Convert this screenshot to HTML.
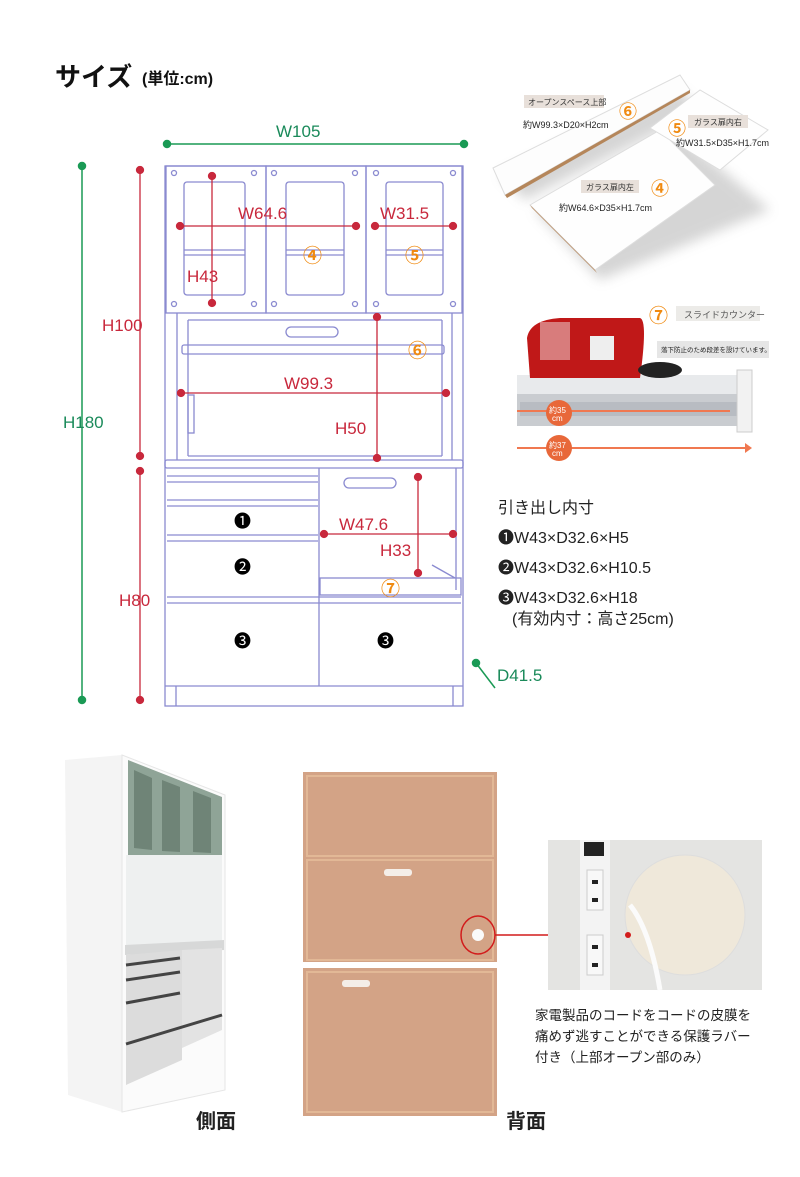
<!DOCTYPE html>
<html><head><meta charset="utf-8"><style>
body{margin:0;background:#fff;}
#w{position:relative;width:800px;height:1177px;overflow:hidden;font-family:"Liberation Sans","Noto Sans CJK JP",sans-serif;}
svg text{font-family:"Liberation Sans","Noto Sans CJK JP",sans-serif;}
</style></head><body><div id="w">
<svg width="800" height="1177" viewBox="0 0 800 1177" xmlns="http://www.w3.org/2000/svg">
<!-- title -->
<text x="55" y="86" font-size="26" font-weight="bold" fill="#111">サイズ</text>
<text x="142" y="84" font-size="16" font-weight="bold" fill="#111">(単位:cm)</text>

<!-- cabinet drawing -->
<g fill="none" stroke="#8a8ad0" stroke-width="1.3">
<rect x="165" y="166" width="298" height="540"/>
<rect x="166" y="166" width="100" height="147"/><rect x="266" y="166" width="100" height="147"/><rect x="366" y="166" width="96" height="147"/>
<rect x="184" y="182" width="61" height="113" rx="3"/><rect x="286" y="182" width="58" height="113" rx="3"/><rect x="386" y="182" width="57" height="113" rx="3"/>
<line x1="184" y1="250" x2="245" y2="250"/><line x1="184" y1="255" x2="245" y2="255"/>
<line x1="286" y1="250" x2="344" y2="250"/><line x1="286" y1="255" x2="344" y2="255"/>
<line x1="386" y1="250" x2="443" y2="250"/><line x1="386" y1="255" x2="443" y2="255"/>
<circle cx="174" cy="173" r="2.5"/><circle cx="254" cy="173" r="2.5"/><circle cx="274" cy="173" r="2.5"/><circle cx="355" cy="173" r="2.5"/><circle cx="376" cy="173" r="2.5"/><circle cx="453" cy="173" r="2.5"/>
<circle cx="174" cy="304" r="2.5"/><circle cx="254" cy="304" r="2.5"/><circle cx="274" cy="304" r="2.5"/><circle cx="355" cy="304" r="2.5"/><circle cx="376" cy="304" r="2.5"/><circle cx="453" cy="304" r="2.5"/>
<line x1="177" y1="313" x2="177" y2="460"/><line x1="188" y1="320" x2="188" y2="456"/><line x1="452" y1="313" x2="452" y2="460"/><line x1="442" y1="320" x2="442" y2="456"/>
<line x1="188" y1="320" x2="442" y2="320"/><line x1="188" y1="456" x2="442" y2="456"/>
<rect x="182" y="345" width="262" height="9" rx="2"/>
<rect x="286" y="327" width="52" height="10" rx="5"/>
<rect x="188" y="395" width="6" height="38"/>
<rect x="165" y="460" width="298" height="8" rx="2"/>
<line x1="319" y1="468" x2="319" y2="686"/>
<line x1="167" y1="476" x2="318" y2="476"/><line x1="167" y1="482" x2="318" y2="482"/>
<line x1="167" y1="500" x2="318" y2="500"/><line x1="167" y1="506" x2="318" y2="506"/>
<line x1="167" y1="535" x2="318" y2="535"/><line x1="167" y1="541" x2="318" y2="541"/>
<line x1="167" y1="597" x2="461" y2="597"/><line x1="167" y1="603" x2="461" y2="603"/>
<line x1="165" y1="686" x2="463" y2="686"/>
<line x1="176" y1="686" x2="176" y2="706"/><line x1="453" y1="686" x2="453" y2="706"/>
<line x1="456" y1="468" x2="456" y2="590"/>
<rect x="344" y="478" width="52" height="10" rx="5"/>
<rect x="320" y="578" width="141" height="17"/>
<line x1="432" y1="565" x2="455" y2="578"/>
</g>
<!-- green dims -->
<g stroke="#1a9a55" stroke-width="1.5" fill="#1a9a55">
<line x1="167" y1="144" x2="464" y2="144"/><circle cx="167" cy="144" r="3.5"/><circle cx="464" cy="144" r="3.5"/>
<line x1="82" y1="166" x2="82" y2="700"/><circle cx="82" cy="166" r="3.5"/><circle cx="82" cy="700" r="3.5"/>
<line x1="476" y1="663" x2="495" y2="688"/><circle cx="476" cy="663" r="3.5"/>
</g>
<g fill="#1a8a5a" font-size="17"><text x="276" y="137">W105</text><text x="63" y="428">H180</text><text x="497" y="681">D41.5</text></g>
<!-- red dims -->
<g stroke="#c8283c" stroke-width="1.3" fill="#c8283c">
<line x1="140" y1="170" x2="140" y2="456"/><circle cx="140" cy="170" r="3.5"/><circle cx="140" cy="456" r="3.5"/>
<line x1="140" y1="471" x2="140" y2="700"/><circle cx="140" cy="471" r="3.5"/><circle cx="140" cy="700" r="3.5"/>
<line x1="180" y1="226" x2="356" y2="226"/><circle cx="180" cy="226" r="3.5"/><circle cx="356" cy="226" r="3.5"/>
<line x1="212" y1="176" x2="212" y2="303"/><circle cx="212" cy="176" r="3.5"/><circle cx="212" cy="303" r="3.5"/>
<line x1="375" y1="226" x2="453" y2="226"/><circle cx="375" cy="226" r="3.5"/><circle cx="453" cy="226" r="3.5"/>
<line x1="377" y1="317" x2="377" y2="458"/><circle cx="377" cy="317" r="3.5"/><circle cx="377" cy="458" r="3.5"/>
<line x1="181" y1="393" x2="446" y2="393"/><circle cx="181" cy="393" r="3.5"/><circle cx="446" cy="393" r="3.5"/>
<line x1="324" y1="534" x2="453" y2="534"/><circle cx="324" cy="534" r="3.5"/><circle cx="453" cy="534" r="3.5"/>
<line x1="418" y1="477" x2="418" y2="573"/><circle cx="418" cy="477" r="3.5"/><circle cx="418" cy="573" r="3.5"/>
</g>
<g fill="#c8283c" font-size="17">
<text x="102" y="331">H100</text><text x="119" y="606">H80</text>
<text x="238" y="219">W64.6</text><text x="187" y="282">H43</text><text x="380" y="219">W31.5</text>
<text x="335" y="434">H50</text><text x="284" y="389">W99.3</text><text x="339" y="530">W47.6</text><text x="380" y="556">H33</text>
</g>
<g fill="#f08a10" font-size="19" font-weight="bold">
<text x="303" y="262">④</text><text x="405" y="262">⑤</text><text x="408" y="357">⑥</text><text x="381" y="595">⑦</text>
</g>
<g fill="#000" font-size="17"><text x="234" y="527">❶</text><text x="234" y="573">❷</text><text x="234" y="647">❸</text><text x="377" y="647">❸</text></g>
<!-- drawer text -->
<g fill="#222" font-size="16">
<text x="498" y="513">引き出し内寸</text>
<text x="498" y="543">❶W43×D32.6×H5</text>
<text x="498" y="573">❷W43×D32.6×H10.5</text>
<text x="498" y="603">❸W43×D32.6×H18</text>
<text x="512" y="624">(有効内寸：高さ25cm)</text>
</g>

<!-- top right shelves photo -->
<defs><filter id="sh" x="-20%" y="-20%" width="140%" height="140%"><feGaussianBlur stdDeviation="6"/></filter></defs>
<g opacity="0.35" filter="url(#sh)"><polygon points="500,175 680,90 700,110 525,200" fill="#888"/><polygon points="535,210 675,130 770,210 600,280" fill="#888"/></g>
<polygon points="493,168 680,75 690,90 505,195" fill="#fdfdfd" stroke="#ddd"/>
<polygon points="505,195 690,90 690,93 507,198" fill="#b5865a"/>
<polygon points="530,205 660,130 715,185 595,270" fill="#fefefe" stroke="#ddd"/>
<polygon points="530,205 595,270 597,273 532,208" fill="#b5865a"/>
<polygon points="650,128 700,90 768,130 720,170" fill="#fefefe" stroke="#ddd"/>
<rect x="524" y="95" width="80" height="13" fill="#e8e0da"/><text x="528" y="105" font-size="8" fill="#333">オープンスペース上部</text>
<text x="523" y="128" font-size="9" fill="#222">約W99.3×D20×H2cm</text>
<text x="619" y="118" font-size="18" font-weight="bold" fill="#f08a10">⑥</text>
<rect x="688" y="115" width="60" height="13" fill="#e8e0da"/><text x="694" y="125" font-size="8" fill="#333">ガラス扉内右</text>
<text x="668" y="135" font-size="18" font-weight="bold" fill="#f08a10">⑤</text>
<text x="676" y="146" font-size="9" fill="#222">約W31.5×D35×H1.7cm</text>
<rect x="581" y="180" width="58" height="13" fill="#e8e0da"/><text x="586" y="190" font-size="8" fill="#333">ガラス扉内左</text>
<text x="651" y="195" font-size="18" font-weight="bold" fill="#f08a10">④</text>
<text x="559" y="211" font-size="9" fill="#222">約W64.6×D35×H1.7cm</text>

<!-- slide counter photo -->
<text x="649" y="322" font-size="19" font-weight="bold" fill="#f08a10">⑦</text>
<rect x="676" y="306" width="84" height="15" fill="#ecebe8"/><text x="684" y="318" font-size="9" fill="#555">スライドカウンター</text>
<rect x="657" y="341" width="112" height="17" fill="#e6e6e6"/><text x="661" y="352" font-size="6.5" fill="#222">落下防止のため段差を設けています。</text>
<rect x="517" y="375" width="222" height="20" fill="#e8eaec"/>
<rect x="517" y="394" width="222" height="32" fill="#c9ccd0"/>
<rect x="520" y="402" width="218" height="14" fill="#b8bcc2"/>
<rect x="737" y="370" width="15" height="62" fill="#f2f2f2" stroke="#ccc"/>
<path d="M527 338 Q530 320 560 318 L640 318 Q648 320 640 378 L530 378 Z" fill="#c01818"/>
<rect x="540" y="322" width="30" height="38" fill="#e7c0c0" opacity="0.6"/>
<rect x="590" y="336" width="24" height="24" fill="#eee"/>
<ellipse cx="660" cy="370" rx="22" ry="8" fill="#222"/>
<line x1="517" y1="411" x2="730" y2="411" stroke="#f07850" stroke-width="2"/>
<line x1="517" y1="448" x2="745" y2="448" stroke="#f07850" stroke-width="2"/><polygon points="745,443 752,448 745,453" fill="#f07850"/>
<circle cx="559" cy="413" r="13" fill="#e8683a"/><text x="549" y="413" font-size="8" fill="#fff">約35</text><text x="552" y="421" font-size="8" fill="#fff">cm</text>
<circle cx="559" cy="448" r="13" fill="#e8683a"/><text x="549" y="448" font-size="8" fill="#fff">約37</text><text x="552" y="456" font-size="8" fill="#fff">cm</text>

<!-- side photo -->
<polygon points="65,760 122,755 122,1112 68,1095" fill="#f4f4f4"/>
<polygon points="122,755 225,795 225,1090 122,1112" fill="#fbfbfb" stroke="#e6e6e6"/>
<polygon points="128,760 222,797 222,855 128,855" fill="#8fa497"/>
<polygon points="134,770 152,778 152,850 134,848" fill="#6f8477"/><polygon points="162,780 180,787 180,852 162,851" fill="#6f8477"/><polygon points="193,791 211,798 211,853 193,852" fill="#6f8477"/>
<rect x="126" y="855" width="96" height="90" fill="#eef0f0"/>
<polygon points="125,945 224,940 224,950 125,955" fill="#d7d8d8"/>
<polygon points="126,955 182,950 182,1060 126,1085" fill="#dcdcdc"/>
<polygon points="182,950 222,948 222,1030 182,1048" fill="#e3e3e3"/>
<g stroke="#444" stroke-width="3"><line x1="126" y1="965" x2="180" y2="958"/><line x1="126" y1="980" x2="180" y2="972"/><line x1="126" y1="1003" x2="180" y2="993"/><line x1="126" y1="1044" x2="222" y2="1015"/></g>
<text x="196" y="1128" font-size="20" font-weight="bold" fill="#222">側面</text>

<!-- back photo -->
<rect x="303" y="772" width="194" height="344" fill="#d3a386"/>
<g fill="none" stroke="#e2b896" stroke-width="2"><rect x="307" y="776" width="186" height="80"/><rect x="307" y="860" width="186" height="100"/><rect x="307" y="972" width="186" height="140"/></g>
<rect x="303" y="962" width="194" height="6" fill="#fff"/>
<rect x="384" y="869" width="28" height="7" rx="3" fill="#f4eee8"/>
<rect x="342" y="980" width="28" height="7" rx="3" fill="#f4eee8"/>
<circle cx="478" cy="935" r="6" fill="#fafafa"/>
<ellipse cx="478" cy="935" rx="17" ry="19" fill="none" stroke="#d21c1c" stroke-width="1.5"/>
<line x1="495" y1="935" x2="628" y2="935" stroke="#d21c1c" stroke-width="1.5"/>
<text x="506" y="1128" font-size="20" font-weight="bold" fill="#222">背面</text>

<!-- inset photo -->
<rect x="548" y="840" width="214" height="150" fill="#e4e4e2"/>
<rect x="580" y="840" width="30" height="150" fill="#f3f3f3"/>
<rect x="584" y="842" width="20" height="14" fill="#222"/>
<rect x="587" y="870" width="16" height="40" fill="#f8f8f8" stroke="#ccc"/><rect x="587" y="935" width="16" height="40" fill="#f8f8f8" stroke="#ccc"/>
<g fill="#222"><rect x="592" y="880" width="6" height="4"/><rect x="592" y="898" width="6" height="4"/><rect x="592" y="945" width="6" height="4"/><rect x="592" y="963" width="6" height="4"/></g>
<circle cx="685" cy="915" r="60" fill="#efe8da" stroke="#ddd"/>
<circle cx="628" cy="935" r="3" fill="#d21c1c"/>
<path d="M630 905 Q650 930 660 990" stroke="#fbfbfb" stroke-width="5" fill="none"/>
<g fill="#222" font-size="13.5">
<text x="535" y="1020">家電製品のコードをコードの皮膜を</text>
<text x="535" y="1041">痛めず逃すことができる保護ラバー</text>
<text x="535" y="1062">付き（上部オープン部のみ）</text>
</g>
</svg>
</div></body></html>
